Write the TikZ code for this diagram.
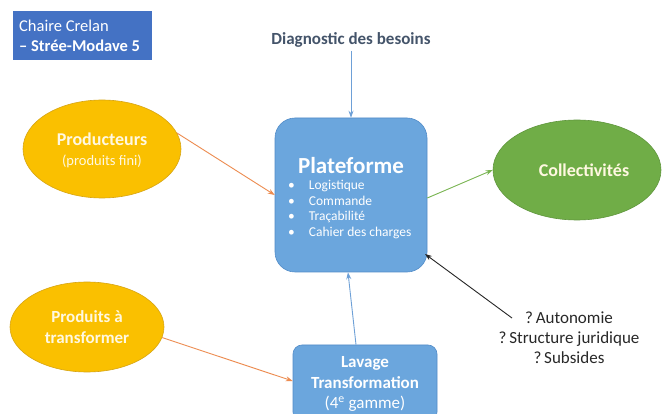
\documentclass[tikz,border=0pt]{standalone}
\usepackage{fontspec}
\setmainfont{Carlito}
\usetikzlibrary{shapes.geometric,arrows.meta,calc}
\definecolor{titleblue}{RGB}{68,114,196}
\definecolor{boxblue}{RGB}{107,166,221}
\definecolor{boxedge}{RGB}{82,140,200}
\definecolor{gold}{RGB}{250,192,0}
\definecolor{goldedge}{RGB}{215,165,20}
\definecolor{grn}{RGB}{112,173,71}
\definecolor{grnedge}{RGB}{95,150,60}
\definecolor{softwhite}{RGB}{255,248,225}
\definecolor{diaggray}{RGB}{68,84,106}
\definecolor{orangeline}{RGB}{237,140,80}
\definecolor{blueline}{RGB}{110,160,215}
\definecolor{greenline}{RGB}{120,180,80}
\definecolor{qgray}{RGB}{40,40,40}
\tikzset{
  ellbox/.style={ellipse, inner sep=0pt, line width=0.6pt, text=softwhite, align=center},
  roundbox/.style={rectangle, fill=boxblue, draw=boxedge, line width=0.6pt, inner sep=0pt},
  conn/.style={line width=0.9pt, -{Stealth[length=7pt,width=5pt]}},
}
\begin{document}
\begin{tikzpicture}[x=1pt,y=-1pt]
\useasboundingbox (0,0) rectangle (665,414);
\fill[white] (0,0) rectangle (665,414);
% title
\node[fill=titleblue, minimum width=139pt, minimum height=49pt, inner sep=0pt] (title) at (82.5,35.5) {};
\node[anchor=west, text=white, align=left, inner sep=0pt, font=\fontsize{16.5}{20}\selectfont] (titletxt) at (19,36)
  {Chaire Crelan\\\textbf{– Strée-Modave 5}};
% diagnostic
\node[text=diaggray, font=\bfseries\fontsize{17}{19}\selectfont] (diag) at (351,40) {Diagnostic des besoins};
% plateforme
\node[roundbox, rounded corners=20pt, minimum width=152pt, minimum height=154pt] (plat) at (351,195) {};
\node[text=white, font=\bfseries\fontsize{23}{25}\selectfont] (plattitle) at (351,166) {Plateforme};
\node[anchor=north west, text=white, align=left, inner sep=0pt, font=\fontsize{13.5}{15.6}\selectfont] (platlist) at (288,180)
  {\textbullet\hspace{14pt}Logistique\\ \textbullet\hspace{14pt}Commande\\ \textbullet\hspace{14pt}Traçabilité\\ \textbullet\hspace{14pt}Cahier des charges};
% producteurs
\node[ellbox, fill=gold, draw=goldedge, minimum width=158pt, minimum height=98pt] (prod) at (102,149) {};
\node[text=softwhite, align=center, font=\bfseries\fontsize{18}{20}\selectfont] (prodtxt) at (102,139) {Producteurs};
\node[text=softwhite, align=center, font=\fontsize{14.5}{16}\selectfont] (prodsub) at (102,161) {(produits fini)};
% collectivites
\node[ellbox, fill=grn, draw=grnedge, minimum width=168pt, minimum height=100pt] (coll) at (577,170) {};
\node[text=softwhite, font=\bfseries\fontsize{18}{20}\selectfont] (colltxt) at (584,170) {Collectivités};
% produits a transformer
\node[ellbox, fill=gold, draw=goldedge, minimum width=154pt, minimum height=90pt, font=\bfseries\fontsize{17}{20.5}\selectfont] (prodt) at (87,327)
  {Produits à\\ transformer};
% lavage
\node[roundbox, rounded corners=9pt, minimum width=144pt, minimum height=76pt] (lav) at (365,383) {};
\node[text=white, align=center, font=\fontsize{17}{20.5}\selectfont] (lavtxt) at (365,384)
  {\textbf{Lavage}\\ \textbf{Transformation}\\ (4\textsuperscript{e} gamme)};
% questions
\node[text=qgray, align=center, font=\fontsize{17}{20}\selectfont] (q) at (569,338)
  {?\,Autonomie\\ ?\,Structure juridique\\ ?\,Subsides};
\coordinate (qstart) at (512,318);
\coordinate (platcorner) at (425,254);
% connectors
\draw[conn, blueline] (diag.south) -- (plat.north);
\draw[conn, orangeline] (prod.12) -- (plat.west);
\draw[conn, greenline] ($(plat.east)+(0,3)$) -- (coll.west);
\draw[conn, blueline] ($(lav.north)+(-9,0)$) -- ($(plat.south)+(-3,0)$);
\draw[conn, orangeline] (prodt.-8) -- ($(lav.west)+(0,-2)$);
\draw[conn, black!85] (qstart) -- (platcorner);
\end{tikzpicture}
\end{document}
